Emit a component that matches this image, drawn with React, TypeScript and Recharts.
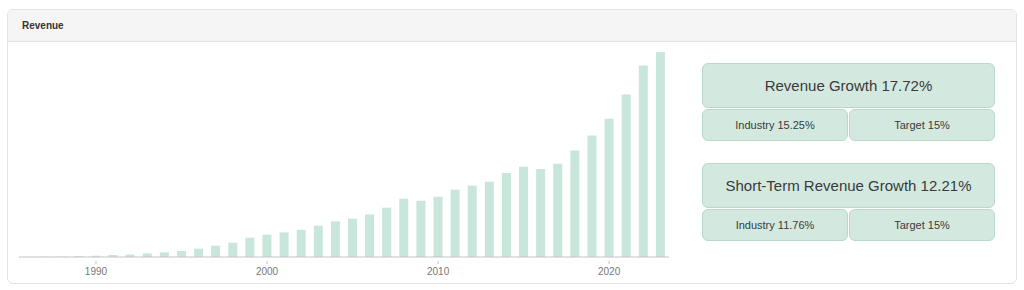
import React from "react";
import { BarChart, Bar, XAxis, YAxis } from "recharts";

const years = [
  "1986", "1987", "1988", "1989", "1990", "1991", "1992", "1993", "1994", "1995",
  "1996", "1997", "1998", "1999", "2000", "2001", "2002", "2003", "2004", "2005",
  "2006", "2007", "2008", "2009", "2010", "2011", "2012", "2013", "2014", "2015",
  "2016", "2017", "2018", "2019", "2020", "2021", "2022", "2023",
];

// revenue, $B
const revenue = [
  0.0, 0.3, 0.5, 1.0, 1.3, 2.0, 2.6, 3.6, 4.6, 6.0,
  8.3, 11.3, 14.3, 19.3, 22.3, 24.6, 27.3, 31.3, 35.6, 38.3,
  42.6, 49.3, 58.3, 56.3, 60.3, 67.3, 71.3, 75.3, 84.0, 90.3,
  88.0, 93.3, 106.6, 121.6, 138.3, 162.6, 191.6, 205.0,
];

const decadeTicks = ["1990", "2000", "2010", "2020"];

const growthCards = [
  { title: "Revenue Growth 17.72%", industry: "Industry 15.25%", target: "Target 15%" },
  { title: "Short-Term Revenue Growth 12.21%", industry: "Industry 11.76%", target: "Target 15%" },
];

const chartData = years.map((y, i) => ({ year: y, revenue: revenue[i] }));

const FONT = "'Liberation Sans', Arial, Helvetica, sans-serif";
const BOX_BG = "#d3e9e0";
const BOX_BORDER = "#b9d8cb";

function DecadeTick(props: any) {
  const { x, y, payload } = props;
  if (!decadeTicks.includes(payload.value)) return null;
  return (
    <g>
      <line x1={x} x2={x} y1={y - 4} y2={y - 1} stroke="#c4c4c4" />
      <text x={x} y={y + 10} textAnchor="middle" fontSize={10} fill="#777" fontFamily={FONT}>
        {payload.value}
      </text>
    </g>
  );
}

function Box({ left, top, width, height, fontSize, children }: any) {
  return (
    <div
      style={{
        position: "absolute",
        left,
        top,
        width,
        height,
        boxSizing: "border-box",
        background: BOX_BG,
        border: `1px solid ${BOX_BORDER}`,
        borderRadius: 6,
        display: "flex",
        alignItems: "center",
        justifyContent: "center",
        fontSize,
        color: "#3a3a3a",
        fontFamily: FONT,
      }}
    >
      {children}
    </div>
  );
}

export default function App() {
  return (
    <div style={{ position: "fixed", left: 0, top: 0, width: 1024, height: 290, background: "#fff", fontFamily: FONT }}>
      <div
        style={{
          position: "absolute",
          left: 7,
          top: 9,
          width: 1010,
          height: 275,
          boxSizing: "border-box",
          border: "1px solid #e3e3e3",
          borderRadius: 6,
          overflow: "hidden",
        }}
      >
        <div
          style={{
            height: 32,
            boxSizing: "border-box",
            background: "#f5f5f5",
            borderBottom: "1px solid #e4e4e4",
            paddingLeft: 14,
            fontSize: 10,
            fontWeight: "bold",
            color: "#333",
            lineHeight: "31px",
          }}
        >
          Revenue
        </div>
      </div>

      <div style={{ position: "absolute", left: 0, top: 0 }}>
        <BarChart
          width={680}
          height={290}
          data={chartData}
          margin={{ top: 47, right: 11, left: 19, bottom: 13 }}
        >
          <XAxis
            dataKey="year"
            interval={0}
            tickLine={false}
            axisLine={{ stroke: "#c4c4c4" }}
            tick={<DecadeTick />}
            height={20}
          />
          <YAxis hide domain={[0, 210]} />
          <Bar dataKey="revenue" fill="#c8e6da" barSize={9} isAnimationActive={false} />
        </BarChart>
      </div>

      {growthCards.map((c, i) => {
        const top = 63 + i * 100;
        return (
          <React.Fragment key={i}>
            <Box left={702} top={top} width={293} height={45} fontSize={15}>
              {c.title}
            </Box>
            <Box left={702} top={top + 46} width={146} height={32} fontSize={11}>
              {c.industry}
            </Box>
            <Box left={849} top={top + 46} width={146} height={32} fontSize={11}>
              {c.target}
            </Box>
          </React.Fragment>
        );
      })}
    </div>
  );
}
